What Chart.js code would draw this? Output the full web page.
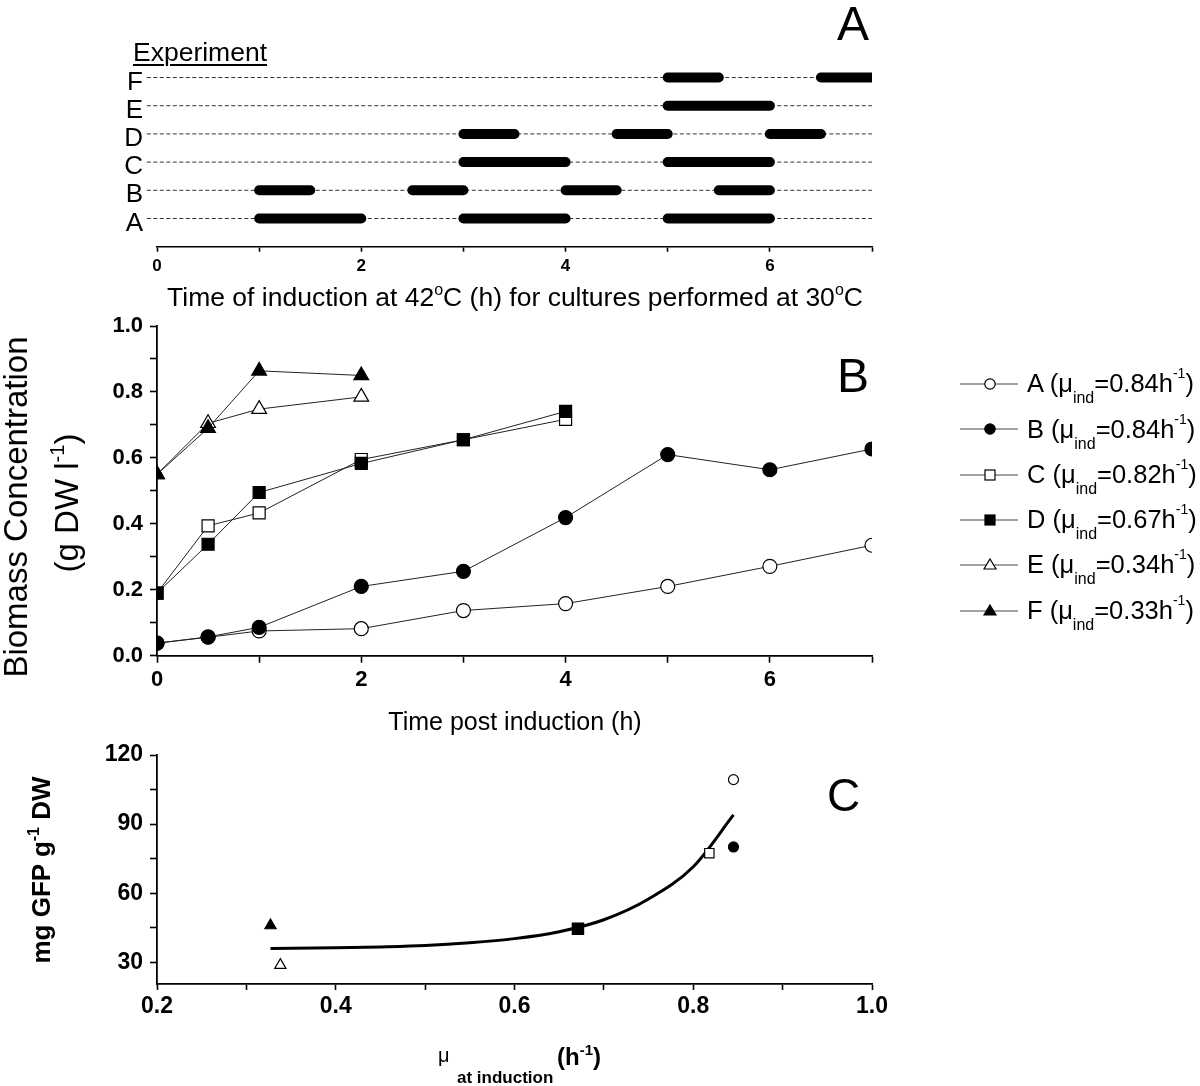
<!DOCTYPE html>
<html><head><meta charset="utf-8">
<script src="https://cdn.jsdelivr.net/npm/chart.js@4.4.0/dist/chart.umd.min.js"></script>
<style>
body{margin:0;background:#fff;width:1200px;height:1086px;position:relative;overflow:hidden;font-family:"Liberation Sans",Arial,Helvetica,sans-serif;color:#000}
canvas{position:absolute;left:0}
.t{position:absolute;line-height:1;white-space:nowrap}
.rot{position:absolute;white-space:nowrap;text-align:center;transform:rotate(-90deg)}
.sp{position:relative}
</style></head><body>
<canvas id="cA" width="1200" height="290" style="top:0px"></canvas>
<canvas id="cB" width="1200" height="400" style="top:300px"></canvas>
<canvas id="cC" width="1200" height="356" style="top:730px"></canvas>

<div class="t" style="left:837px;top:0px;font-size:48px">A</div>
<div class="t" style="left:133px;top:39px;font-size:26.5px;text-decoration:underline;text-decoration-thickness:2px;text-underline-offset:3px">Experiment</div>
<div class="t" style="left:115px;width:800px;text-align:center;top:284px;font-size:26.5px">Time of induction at 42<span class="sp" style="font-size:16px;top:-11px">o</span>C (h) for cultures performed at 30<span class="sp" style="font-size:16px;top:-11px">o</span>C</div>

<div class="t" style="left:837px;top:352px;font-size:48px">B</div>
<div class="rot" style="left:-184px;top:487px;width:400px;height:40px;line-height:40px;font-size:33px">Biomass Concentration</div>
<div class="rot" style="left:-133px;top:483px;width:400px;height:40px;line-height:40px;font-size:33px">(g DW l<span class="sp" style="font-size:20px;top:-14px">-1</span>)</div>
<div class="t" style="left:315px;width:400px;text-align:center;top:709px;font-size:25px">Time post induction (h)</div>
<div id="legend"></div>

<div class="t" style="left:827px;top:772px;font-size:46px">C</div>
<div class="rot" style="left:-109px;top:855px;width:300px;height:30px;line-height:30px;font-size:26px;font-weight:bold">mg GFP g<span class="sp" style="font-size:16px;top:-11px">-1</span> DW</div>
<div class="t" style="left:438px;top:1045px;font-size:20px">μ</div>
<div class="t" style="left:457px;top:1069px;font-size:17px;font-weight:bold">at induction</div>
<div class="t" style="left:557px;top:1045px;font-size:24px;font-weight:bold">(h<span class="sp" style="font-size:15px;top:-10px">-1</span>)</div>

<script>
// ---------- Panel A: induction schedule ----------
const expRows = ['A','B','C','D','E','F'];
const inductionA = [[1,2],[3,4],[5,6]];
const inductionB = [[1,1.5],[2.5,3],[4,4.5],[5.5,6]];
const inductionC = [[3,4],[5,6]];
const inductionD = [[3,3.5],[4.5,5],[6,6.5]];
const inductionE = [[5,6]];
const inductionF = [[5,5.5],[6.5,7]];
const inductionPeriods = [inductionA, inductionB, inductionC, inductionD, inductionE, inductionF];
const scheduleRange = [-0.1, 7];

// ---------- Panel B: biomass ----------
const timeA = [0,0.5,1,2,3,4,5,6,7];
const bioA  = [0.038,0.056,0.075,0.082,0.137,0.158,0.21,0.271,0.335];
const timeB = [0,0.5,1,2,3,4,5,6,7];
const bioB  = [0.038,0.057,0.086,0.21,0.256,0.419,0.61,0.564,0.627];
const timeC = [0,0.5,1,2,3,4];
const bioC  = [0.19,0.394,0.433,0.595,0.655,0.717];
const timeD = [0,0.5,1,2,3,4];
const bioD  = [0.19,0.338,0.495,0.583,0.655,0.741];
const timeE = [0,0.5,1,2];
const bioE  = [0.55,0.705,0.748,0.785];
const timeF = [0,0.5,1,2];
const bioF  = [0.55,0.69,0.864,0.85];
const legendMu = ['0.84','0.84','0.82','0.67','0.34','0.33'];

// ---------- Panel C: GFP yield vs growth rate ----------
const muAtInduction = [0.845,0.845,0.818,0.671,0.338,0.327];
const gfpYield      = [109.3,80.1,77.4,44.6,28.8,46.0];
const fitMu  = [0.327,0.40,0.45,0.50,0.55,0.60,0.65,0.70,0.75,0.80,0.845];
const fitGfp = [36.0,36.3,36.7,37.3,38.5,40.3,43.3,48.5,57.5,71.5,94.0];

// marker styles per experiment
const markerShape = ['circle','circle','rect','rect','triangle','triangle'];
const markerFilled = [false,true,false,true,false,true];

Chart.defaults.font.family = '"Liberation Sans", Arial, Helvetica, sans-serif';
Chart.defaults.color = '#000';
const fixW = w => s => { s.width = w; };
const fixH = h => s => { s.height = h; };
const baseOpts = {responsive:false, animation:false, events:[], plugins:{legend:{display:false}, tooltip:{enabled:false}}};
const axisLine = {color:'#000', width:1.8};
const tickGrid = len => ({drawOnChartArea:false, color:'#000', tickColor:'#000', tickLength:len, tickWidth:1.6});

// Panel A
const dsA = [];
expRows.forEach((r,i) => {
  dsA.push({data:[{x:scheduleRange[0],y:i},{x:scheduleRange[1],y:i}], borderColor:'#333', borderWidth:1, borderDash:[4,2.5], pointRadius:0, order:2, clip:false});
  inductionPeriods[i].forEach(seg => {
    dsA.push({data:[{x:seg[0],y:i},{x:seg[1],y:i}], borderColor:'#000', borderWidth:10, borderCapStyle:'round', pointRadius:0, order:1, clip:0});
  });
});
new Chart(document.getElementById('cA'), {type:'line', data:{datasets:dsA}, options:Object.assign({}, baseOpts, {
  layout:{padding:{left:0,right:328,top:60.6,bottom:8.3}},
  scales:{
    x:{type:'linear', min:0, max:7, afterFit:fixH(35), border:{color:'#000',width:1.5}, grid:tickGrid(5),
       ticks:{stepSize:1, autoSkip:false, maxRotation:0, padding:4, font:{size:17,weight:'bold'}, callback:v => (v%2===0 ? String(v) : '')}},
    y:{type:'linear', min:-1, max:5.6, afterFit:fixW(157), border:{display:false}, grid:{display:false, drawTicks:false},
       ticks:{stepSize:1, autoSkip:false, includeBounds:false, padding:14, labelOffset:5, font:{size:26}, callback:v => (v>=0 && v<expRows.length ? expRows[v] : '')}}
  }
})});

// Panel B
const times = [timeA,timeB,timeC,timeD,timeE,timeF];
const bios = [bioA,bioB,bioC,bioD,bioE,bioF];
const radB = {circle:7, rect:8.5, triangle:8.5};
const dsB = expRows.map((r,i) => ({
  label:r,
  data: times[i].map((t,k) => ({x:t, y:bios[i][k]})),
  borderColor:'#222', borderWidth:1, tension:0,
  pointStyle:markerShape[i], pointRadius:radB[markerShape[i]],
  pointBackgroundColor: markerFilled[i] ? '#000' : '#fff',
  pointBorderColor:'#000', pointBorderWidth:1.2,
  order: markerFilled[i] ? 0 : 1, clip:0
}));
new Chart(document.getElementById('cB'), {type:'line', data:{datasets:dsB}, options:Object.assign({}, baseOpts, {
  layout:{padding:{left:0,right:328,top:26,bottom:9.3}},
  scales:{
    x:{type:'linear', min:0, max:7, afterFit:fixH(35), border:axisLine, grid:tickGrid(7),
       ticks:{stepSize:1, autoSkip:false, maxRotation:0, padding:4, font:{size:22,weight:'bold'}, callback:v => (v%2===0 ? String(v) : '')}},
    y:{type:'linear', min:0, max:1, afterFit:fixW(157), border:axisLine, grid:tickGrid(7),
       ticks:{stepSize:0.1, autoSkip:false, padding:7, font:{size:22,weight:'bold'}, callback:v => { const k=Math.round(v*10); return k%2===0 ? (k/10).toFixed(1) : ''; }}}
  }
})});

// Legend for panel B (HTML, with sub/superscripts)
const legendEl = document.getElementById('legend');
const legendTop = 384, legendStep = 45.3;
expRows.forEach((r,i) => {
  const y = legendTop + i*legendStep;
  const fill = markerFilled[i] ? '#000' : '#fff';
  let m;
  if (markerShape[i]==='circle') m = `<circle cx="30" cy="10" r="5.2" fill="${fill}" stroke="#000" stroke-width="1.2"/>`;
  else if (markerShape[i]==='rect') m = `<rect x="25" y="5" width="10" height="10" fill="${fill}" stroke="#000" stroke-width="1.2"/>`;
  else m = `<polygon points="30,4 36,14 24,14" fill="${fill}" stroke="#000" stroke-width="1.2"/>`;
  const svg = document.createElementNS('http://www.w3.org/2000/svg','svg');
  svg.setAttribute('width','60'); svg.setAttribute('height','20');
  svg.style.cssText = `position:absolute;left:960px;top:${y-10}px`;
  svg.innerHTML = `<line x1="0" y1="10" x2="58" y2="10" stroke="#444" stroke-width="1"/>` + m;
  legendEl.appendChild(svg);
  const d = document.createElement('div');
  d.className = 't';
  d.style.cssText = `left:1027px;top:${y-12.8}px;font-size:25.5px`;
  d.innerHTML = `${r} (μ<span class="sp" style="font-size:16px;top:11px">ind</span>=${legendMu[i]}h<span class="sp" style="font-size:14px;top:-14px">-1</span>)`;
  legendEl.appendChild(d);
});

// Panel C
const radC = {circle:5, rect:6.6, triangle:6.5};
const dsC = expRows.map((r,i) => ({
  label:r, showLine:false,
  data:[{x:muAtInduction[i], y:gfpYield[i]}],
  pointStyle:markerShape[i],
  pointRadius: (i===3 ? 8 : radC[markerShape[i]]),
  pointBackgroundColor: markerFilled[i] ? '#000' : '#fff',
  pointBorderColor:'#000', pointBorderWidth:1.2, order:0
}));
dsC.push({label:'fit', data: fitMu.map((m,k) => ({x:m, y:fitGfp[k]})), borderColor:'#000', borderWidth:3,
  cubicInterpolationMode:'monotone', pointRadius:0, order:1});
new Chart(document.getElementById('cC'), {type:'line', data:{datasets:dsC}, options:Object.assign({}, baseOpts, {
  layout:{padding:{left:0,right:328,top:25,bottom:62}},
  scales:{
    x:{type:'linear', min:0.2, max:1.0, afterFit:fixH(40), border:axisLine, grid:tickGrid(6),
       ticks:{stepSize:0.1, autoSkip:false, maxRotation:0, padding:3, font:{size:23,weight:'bold'}, callback:v => { const k=Math.round(v*10); return k%2===0 ? (k/10).toFixed(1) : ''; }}},
    y:{type:'linear', min:20.6, max:120, afterFit:fixW(157), border:axisLine, grid:tickGrid(7),
       ticks:{stepSize:15, includeBounds:false, autoSkip:false, padding:7, font:{size:23,weight:'bold'}, callback:v => (Math.round(v)%30===0 ? String(Math.round(v)) : '')}}
  }
})});
</script>
</body></html>
